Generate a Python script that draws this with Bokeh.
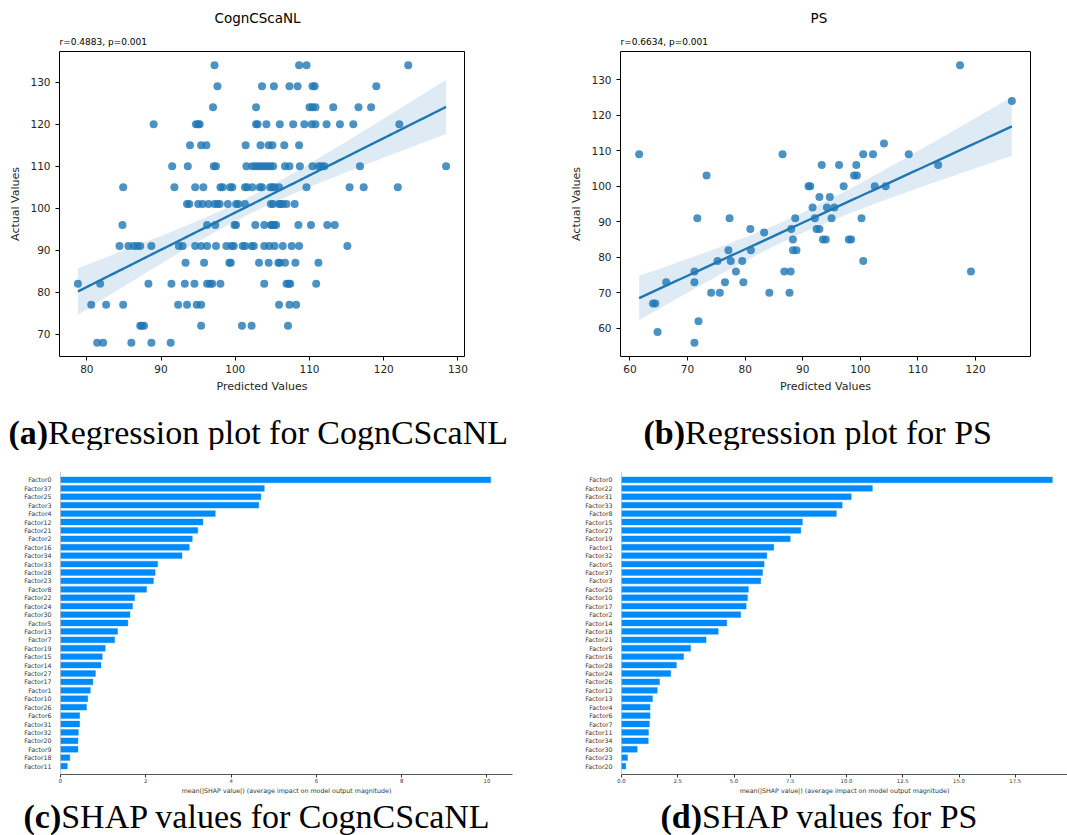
import numpy as np
from bokeh.plotting import figure
from bokeh.models import Range1d, FixedTicker, NumeralTickFormatter, Span
from bokeh.core.properties import value
from bokeh.layouts import column, row
from bokeh.embed import file_html
from bokeh.resources import INLINE

# ---------------- data: (a) CognCScaNL regression ----------------
a_actual_levels = [134, 129, 124, 120, 115, 110, 105, 101, 96, 91, 87, 82, 77, 72, 68]
a_pred_rows = [
    [97.2, 108.6, 109.6, 123.3],
    [97.6, 103.6, 105.2, 107.3, 108.4, 110.4, 110.7, 119.0],
    [97.0, 102.8, 110.0, 110.4, 110.8, 113.2, 116.6, 118.3],
    [89.0, 94.7, 95.0, 95.2, 102.8, 103.0, 104.2, 106.0, 107.8, 109.3, 110.3, 110.8, 112.3, 114.1, 115.9, 122.1],
    [93.9, 95.4, 96.1, 101.4, 103.4, 104.5, 105.0, 106.6, 108.6],
    [91.5, 93.6, 97.1, 97.4, 101.5, 102.3, 102.7, 103.1, 103.5, 103.9, 104.3, 104.7, 105.1, 106.7, 107.3, 108.7,
     110.4, 111.2, 111.6, 112.0, 116.8, 128.4],
    [84.9, 91.8, 94.6, 95.7, 98.0, 98.3, 99.3, 99.6, 101.3, 101.6, 102.3, 103.3, 103.6, 104.7, 105.0, 105.3, 105.9,
     109.6, 115.4, 117.3, 121.9],
    [93.5, 93.8, 95.0, 95.6, 96.4, 97.2, 97.6, 97.9, 99.0, 100.1, 100.4, 101.3, 104.8, 105.1, 105.9, 106.1, 106.4,
     106.9, 108.0],
    [84.8, 96.2, 97.3, 99.9, 100.1, 102.7, 103.9, 104.8, 105.0, 105.2, 105.5, 108.5, 110.2, 112.4, 113.4],
    [84.4, 85.6, 86.3, 86.8, 87.2, 88.7, 92.4, 92.9, 94.6, 95.4, 96.2, 97.4, 98.8, 99.5, 99.8, 101.0, 101.3, 102.2,
     102.5, 103.9, 104.6, 105.3, 106.4, 107.6, 108.6, 115.1],
    [93.3, 95.8, 99.2, 99.4, 103.2, 104.5, 105.8, 106.0, 106.7, 108.1, 111.2],
    [78.8, 81.8, 88.3, 91.4, 93.2, 94.5, 96.2, 96.6, 96.9, 98.0, 103.9, 106.9, 107.2, 107.4, 110.9],
    [80.6, 82.6, 84.9, 92.3, 93.5, 94.8, 95.4, 105.9, 107.3, 108.2],
    [87.2, 87.4, 87.7, 95.4, 100.9, 102.2, 107.1],
    [81.4, 82.2, 86.0, 88.7, 91.3],
]
a_pred = [v for rowv in a_pred_rows for v in rowv]
a_actual = [lvl for lvl, rowv in zip(a_actual_levels, a_pred_rows) for _ in rowv]

# ---------------- data: (b) PS regression ----------------
b_pred = [61.6, 64.0, 64.4, 64.8, 66.3, 71.2, 71.2, 71.2, 71.7, 71.9, 73.3, 74.1, 75.2, 75.6, 76.5, 77.1, 77.3,
          77.5, 78.4, 79.5, 79.7, 80.9, 81.0, 83.3, 84.2, 86.5, 86.8, 87.7, 87.9, 88.0, 88.3, 88.3, 88.9, 88.7,
          91.0, 91.3, 91.7, 92.1, 92.4, 92.9, 92.9, 93.3, 93.5, 94.0, 94.2, 94.7, 95.0, 95.5, 96.3, 97.1, 98.0,
          98.4, 98.9, 99.4, 99.3, 100.2, 100.5, 100.5, 102.2, 102.5, 104.1, 104.4, 108.4, 113.5, 117.3, 119.2, 126.3]
b_actual = [109, 67, 67, 59, 73, 56, 73, 76, 91, 62, 103, 70, 79, 70, 73, 82, 91,
            79, 76, 79, 73, 88, 82, 87, 70, 109, 76, 70, 76, 88, 85, 82, 82, 91,
            100, 100, 94, 91, 88, 88, 97, 106, 85, 85, 94, 97, 91, 94, 106, 100, 85,
            85, 103, 103, 106, 91, 109, 79, 109, 100, 112, 100, 109, 106, 134, 76, 124]

a_xticks = [80, 90, 100, 110, 120, 130]
a_yticks = [70, 80, 90, 100, 110, 120, 130]
b_xticks = [60, 70, 80, 90, 100, 110, 120]
b_yticks = [60, 70, 80, 90, 100, 110, 120, 130]

# ---------------- data: SHAP bars (top to bottom) ----------------
c_factors = ["Factor0", "Factor37", "Factor25", "Factor3", "Factor4", "Factor12", "Factor21", "Factor2",
             "Factor16", "Factor34", "Factor33", "Factor28", "Factor23", "Factor8", "Factor22", "Factor24",
             "Factor30", "Factor5", "Factor13", "Factor7", "Factor19", "Factor15", "Factor14", "Factor27",
             "Factor17", "Factor1", "Factor10", "Factor26", "Factor6", "Factor31", "Factor32", "Factor20",
             "Factor9", "Factor18", "Factor11"]
c_values = [10.09, 4.78, 4.70, 4.65, 3.63, 3.34, 3.22, 3.09, 3.02, 2.85, 2.28, 2.22, 2.18, 2.02, 1.74, 1.69,
            1.63, 1.58, 1.34, 1.27, 1.05, 0.98, 0.95, 0.82, 0.76, 0.70, 0.64, 0.61, 0.45, 0.45, 0.42, 0.41,
            0.41, 0.22, 0.16]
c_xticks = [0, 2, 4, 6, 8, 10]

d_factors = ["Factor0", "Factor22", "Factor31", "Factor33", "Factor8", "Factor15", "Factor27", "Factor19",
             "Factor1", "Factor32", "Factor5", "Factor37", "Factor3", "Factor25", "Factor10", "Factor17",
             "Factor2", "Factor14", "Factor18", "Factor21", "Factor9", "Factor16", "Factor28", "Factor24",
             "Factor26", "Factor12", "Factor13", "Factor4", "Factor6", "Factor7", "Factor11", "Factor34",
             "Factor30", "Factor23", "Factor20"]
d_values = [19.15, 11.15, 10.21, 9.81, 9.55, 8.04, 7.97, 7.50, 6.77, 6.46, 6.34, 6.27, 6.19, 5.64, 5.60, 5.54,
            5.30, 4.68, 4.30, 3.76, 3.07, 2.76, 2.44, 2.19, 1.69, 1.59, 1.38, 1.27, 1.27, 1.24, 1.20, 1.19,
            0.70, 0.27, 0.19]
d_xticks = [0, 2.5, 5.0, 7.5, 10.0, 12.5, 15.0, 17.5]

SHAP_XLABEL = "mean(|SHAP value|) (average impact on model output magnitude)"
BLUE = "#1f77b4"
SHAP_BLUE = "#008bfb"


def text_fig(x0, y0, W, H, items):
    """A blank figure whose data space equals page pixels; items: (x, y, text, font, size_px, style, align)."""
    p = figure(width=W, height=H, output_backend="svg", toolbar_location=None, title=None,
               x_range=Range1d(x0, x0 + W), y_range=Range1d(y0 + H, y0),
               x_axis_type=None, y_axis_type=None, frame_align=False,
               min_border_left=0, min_border_right=0, min_border_top=0, min_border_bottom=0)
    p.outline_line_color = None
    p.xgrid.visible = False
    p.ygrid.visible = False
    for (x, y, t, font, size, style, align) in items:
        # baseline correction for Bokeh's text box placement
        p.text(x=[x], y=[y - 0.27 * size], text=[t], text_font=value(font), text_font_size=f"{size}px",
               text_font_style=style, text_align=align, text_baseline="alphabetic", text_color="#000000")
    return p


def caption_items(xb, yb, bold, rest):
    return [(xb, yb, bold, "Liberation Serif", 34, "bold", "right"),
            (xb, yb, rest, "Liberation Serif", 34, "normal", "left")]


def make_fig(W, H, origin, fr, xr, yr):
    fx, fy = origin
    L, T, R, B = fr
    p = figure(width=W, height=H, output_backend="svg", toolbar_location=None, title=None,
               x_range=xr, y_range=yr, frame_align=False,
               min_border_left=L - fx, min_border_right=fx + W - R,
               min_border_top=T - fy, min_border_bottom=fy + H - B)
    p.xgrid.visible = False
    p.ygrid.visible = False
    return p


def regression(x, y):
    slope, icpt = np.polyfit(x, y, 1)
    gx = np.linspace(x.min(), x.max(), 100)
    gy = icpt + slope * gx
    n = len(x)
    resid = y - (icpt + slope * x)
    s = np.sqrt(np.sum(resid ** 2) / (n - 2))
    sxx = np.sum((x - x.mean()) ** 2)
    half = 1.97 * s * np.sqrt(1.0 / n + (gx - x.mean()) ** 2 / sxx)
    return gx, gy, gy - half, gy + half


def reg_panel(xv, yv, W, H, origin, fr, xticks, yticks):
    x = np.asarray(xv, float)
    y = np.asarray(yv, float)
    xs = x.max() - x.min()
    ys = y.max() - y.min()
    p = make_fig(W, H, origin, fr,
                 Range1d(x.min() - 0.05 * xs, x.max() + 0.05 * xs),
                 Range1d(y.min() - 0.05 * ys, y.max() + 0.05 * ys))
    p.outline_line_color = "black"
    p.outline_line_width = 1
    p.outline_line_alpha = 1.0
    p.scatter(x, y, size=8, fill_color=BLUE, fill_alpha=0.8, line_color=None)
    gx, gy, lo, hi = regression(x, y)
    p.varea(x=gx, y1=lo, y2=hi, fill_color=BLUE, fill_alpha=0.15)
    p.line(gx, gy, line_color=BLUE, line_width=2.4)
    p.xaxis.ticker = FixedTicker(ticks=xticks)
    p.yaxis.ticker = FixedTicker(ticks=yticks)
    p.xaxis.axis_label = "Predicted Values"
    p.yaxis.axis_label = "Actual Values"
    for ax in (p.xaxis[0], p.yaxis[0]):
        ax.axis_line_color = None
        ax.major_tick_line_color = "black"
        ax.major_tick_in = 0
        ax.major_tick_out = 4
        ax.minor_tick_line_color = None
        ax.major_label_text_font = "DejaVu Sans"
        ax.major_label_text_font_size = "10.5px"
        ax.major_label_text_color = "#262626"
        ax.axis_label_text_font = "DejaVu Sans"
        ax.axis_label_text_font_size = "11px"
        ax.axis_label_text_font_style = "normal"
        ax.axis_label_text_color = "#262626"
    p.xaxis.major_label_standoff = 4
    p.yaxis.major_label_standoff = 5
    p.xaxis.axis_label_standoff = 4
    p.yaxis.axis_label_standoff = 5
    return p


def shap_panel(names, vals, W, H, origin, fr, xmax, xticks, fmt):
    n = len(names)
    ypos = list(range(n - 1, -1, -1))
    p = make_fig(W, H, origin, fr, Range1d(0, xmax), Range1d(-1, n))
    p.outline_line_color = None
    p.add_layout(Span(location=0, dimension="height", line_color="#999999", line_width=1))
    p.hbar(y=ypos, left=0, right=vals, height=0.7, fill_color=SHAP_BLUE, line_color=SHAP_BLUE,
           line_alpha=0.35, line_width=1)
    p.yaxis.ticker = FixedTicker(ticks=ypos)
    p.yaxis.major_label_overrides = {yp: nm for yp, nm in zip(ypos, names)}
    p.yaxis.axis_line_color = None
    p.yaxis.major_tick_line_color = None
    p.yaxis.minor_tick_line_color = None
    p.yaxis.major_label_standoff = 3
    p.yaxis.major_label_text_font = "DejaVu Sans"
    p.yaxis.major_label_text_font_size = "6.3px"
    p.yaxis.major_label_text_color = "#333333"
    p.xaxis.ticker = FixedTicker(ticks=xticks)
    p.xaxis.formatter = NumeralTickFormatter(format=fmt)
    p.xaxis.axis_line_color = "#555555"
    p.xaxis.axis_line_width = 1
    p.xaxis.major_tick_line_color = "#333333"
    p.xaxis.major_tick_in = 0
    p.xaxis.major_tick_out = 3
    p.xaxis.minor_tick_line_color = None
    p.xaxis.major_label_standoff = 1
    p.xaxis.major_label_text_font = "DejaVu Sans"
    p.xaxis.major_label_text_font_size = "5.3px"
    p.xaxis.major_label_text_color = "#333333"
    p.xaxis.axis_label = SHAP_XLABEL
    p.xaxis.axis_label_standoff = 1
    p.xaxis.axis_label_text_font = "DejaVu Sans"
    p.xaxis.axis_label_text_font_size = "6.3px"
    p.xaxis.axis_label_text_font_style = "normal"
    p.xaxis.axis_label_text_color = "#333333"
    return p


# ---- top-left column: (a) ----
ha = text_fig(0, 0, 540, 48, [
    (214, 21.5, "CognCScaNL", "DejaVu Sans", 13.5, "normal", "left"),
    (59, 43.8, "r=0.4883, p=0.001", "DejaVu Sans", 9, "normal", "left")])
fa = reg_panel(a_pred, a_actual, 540, 357, (0, 48), (59, 51, 464, 356), a_xticks, a_yticks)
ca = text_fig(0, 405, 540, 45, caption_items(47.6, 441, "(a)", "Regression plot for CognCScaNL"))

# ---- top-right column: (b) ----
hb = text_fig(540, 0, 527, 48, [
    (810, 21.5, "PS", "DejaVu Sans", 13.5, "normal", "left"),
    (620, 43.8, "r=0.6634, p=0.001", "DejaVu Sans", 9, "normal", "left")])
fb = reg_panel(b_pred, b_actual, 527, 357, (540, 48), (620, 51, 1030, 356), b_xticks, b_yticks)
cb = text_fig(540, 405, 527, 45, caption_items(684.5, 441, "(b)", "Regression plot for PS"))

# ---- bottom-left column: (c) ----
fc = shap_panel(c_factors, c_values, 560, 346, (0, 450), (60, 471, 512, 774), 10.6, c_xticks, "0")
cc = text_fig(0, 796, 560, 39, caption_items(60.7, 825, "(c)", "SHAP values for CognCScaNL"))

# ---- bottom-right column: (d) ----
fd = shap_panel(d_factors, d_values, 507, 346, (560, 450), (621, 471, 1067, 774), 446 / 22.5, d_xticks, "0.0")
cd = text_fig(560, 796, 507, 39, caption_items(701.5, 825, "(d)", "SHAP values for PS"))

layout = column(row(column(ha, fa, ca), column(hb, fb, cb)),
                row(column(fc, cc), column(fd, cd)))
open("out.html", "w").write(file_html(layout, INLINE))
